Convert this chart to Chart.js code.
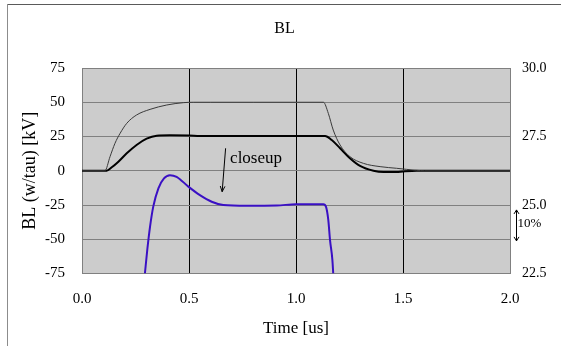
<!DOCTYPE html>
<html>
<head>
<meta charset="utf-8">
<script src="https://cdn.jsdelivr.net/npm/chart.js@4/dist/chart.umd.min.js"></script>
<style>
  html, body { margin: 0; padding: 0; background: #ffffff; }
  #wrap { width: 561px; height: 346px; }
</style>
</head>
<body>
<div id="wrap"><canvas id="c" width="561" height="346"></canvas></div>
<script>
// BL waveform, w series (thin trace), in kV vs time in us
const timeW  = [0, 0.107, 0.131, 0.154, 0.178, 0.209, 0.255, 0.318, 0.396, 0.474, 0.52, 0.6, 0.8, 1.0, 1.128, 1.151, 1.174, 1.206, 1.252, 1.315, 1.393, 1.47, 1.564, 1.6, 2.0];
const valueW = [0, 0, 10.3, 20, 27.3, 34.6, 40.7, 44.8, 48, 49.7, 50, 50, 50, 50, 50, 41.9, 29.7, 18.8, 10.3, 5.4, 3, 1.8, 0.3, 0, 0];

// BL waveform, tau series (thick trace)
const timeTau  = [0, 0.115, 0.139, 0.17, 0.209, 0.255, 0.302, 0.349, 0.41, 0.5, 0.55, 0.8, 1.136, 1.167, 1.206, 1.252, 1.299, 1.362, 1.409, 1.47, 1.5, 1.564, 1.6, 2.0];
const valueTau = [0, 0, 2.5, 6.6, 12.7, 18.8, 23.4, 25.6, 25.9, 25.8, 25.4, 25.4, 25.4, 22.4, 16.4, 9.1, 3.5, 0, -0.9, -0.9, -0.5, 0, 0, 0];

// Closeup of the tau trace, read on the right axis
const timeCloseup  = [0.294, 0.305, 0.318, 0.333, 0.357, 0.383, 0.411, 0.442, 0.497, 0.551, 0.606, 0.66, 0.77, 0.91, 1.0, 1.128, 1.14, 1.151, 1.159, 1.17, 1.174];
const valueCloseup = [22.5, 23.36, 24.21, 24.94, 25.61, 25.97, 26.09, 26.03, 25.67, 25.36, 25.12, 25.0, 24.97, 24.98, 25.03, 25.03, 24.94, 24.45, 23.72, 23.0, 22.5];

// Axis ticks
const xTickValues = [0, 0.5, 1, 1.5, 2];
const xTickLabels = ['0.0', '0.5', '1.0', '1.5', '2.0'];
const leftTickValues = [-75, -50, -25, 0, 25, 50, 75];
const leftTickLabels = ['-75', '-50', '-25', '0', '25', '50', '75'];
const rightTickValues = [22.5, 25, 27.5, 30];
const rightTickLabels = ['22.5', '25.0', '27.5', '30.0'];

const SERIF = "'Liberation Serif', 'Times New Roman', serif";

const toPoints = (xs, ys) => xs.map((x, i) => ({ x: x, y: ys[i] }));
const setTicks = (values) => (scale) => { scale.ticks = values.map(v => ({ value: v })); };
const labelFor = (values, labels) => (v) => labels[values.indexOf(v)];

// Frame, plot background and notes
const decor = {
  id: 'decor',
  beforeDraw(chart) {
    const { ctx, chartArea: a } = chart;
    ctx.save();
    ctx.fillStyle = '#ffffff';
    ctx.fillRect(0, 0, chart.width, chart.height);
    ctx.fillStyle = '#cccccc';
    ctx.fillRect(a.left, a.top, a.right - a.left, a.bottom - a.top);
    ctx.lineWidth = 1;
    ctx.strokeStyle = '#5a5a5a';
    ctx.beginPath(); ctx.moveTo(7, 4.5); ctx.lineTo(chart.width, 4.5); ctx.stroke();
    ctx.strokeStyle = '#8c8c8c';
    ctx.beginPath(); ctx.moveTo(7.5, 4); ctx.lineTo(7.5, chart.height); ctx.stroke();
    ctx.restore();
  },
  afterDatasetsDraw(chart) {
    const { ctx } = chart;
    const x = chart.scales.x, y = chart.scales.y, y2 = chart.scales.y2;
    ctx.save();
    ctx.strokeStyle = '#000000';
    ctx.fillStyle = '#000000';
    ctx.lineWidth = 1;

    // "closeup" pointer
    const ax0 = x.getPixelForValue(0.671), ay0 = y.getPixelForValue(16.4);
    const ax1 = x.getPixelForValue(0.655), ay1 = y.getPixelForValue(-15.3);
    ctx.beginPath(); ctx.moveTo(ax0, ay0); ctx.lineTo(ax1, ay1); ctx.stroke();
    const ang = Math.atan2(ay1 - ay0, ax1 - ax0);
    const head = 6;
    ctx.beginPath();
    ctx.moveTo(ax1 - head * Math.cos(ang - 0.4), ay1 - head * Math.sin(ang - 0.4));
    ctx.lineTo(ax1, ay1);
    ctx.lineTo(ax1 - head * Math.cos(ang + 0.4), ay1 - head * Math.sin(ang + 0.4));
    ctx.stroke();
    ctx.font = '17px ' + SERIF;
    ctx.textBaseline = 'middle';
    ctx.textAlign = 'left';
    ctx.fillText('closeup', x.getPixelForValue(0.692), y.getPixelForValue(9.1));

    // 10% span marker beside the right axis
    const bx = Math.round(x.getPixelForValue(2.028)) + 0.5;
    const by0 = y2.getPixelForValue(24.82), by1 = y2.getPixelForValue(23.69);
    ctx.beginPath(); ctx.moveTo(bx, by0); ctx.lineTo(bx, by1); ctx.stroke();
    ctx.beginPath();
    ctx.moveTo(bx - 2.5, by0 + 4); ctx.lineTo(bx, by0); ctx.lineTo(bx + 2.5, by0 + 4);
    ctx.moveTo(bx - 2.5, by1 - 4); ctx.lineTo(bx, by1); ctx.lineTo(bx + 2.5, by1 - 4);
    ctx.stroke();
    ctx.font = '13px ' + SERIF;
    ctx.fillText('10%', x.getPixelForValue(2.035), y2.getPixelForValue(24.33));
    ctx.restore();
  }
};

new Chart(document.getElementById('c'), {
  type: 'line',
  data: {
    datasets: [
      {
        label: 'BL w',
        data: toPoints(timeW, valueW),
        borderColor: '#3a3a3a',
        borderWidth: 1,
        pointRadius: 0,
        cubicInterpolationMode: 'monotone',
        yAxisID: 'y'
      },
      {
        label: 'BL tau',
        data: toPoints(timeTau, valueTau),
        borderColor: '#000000',
        borderWidth: 2,
        pointRadius: 0,
        cubicInterpolationMode: 'monotone',
        yAxisID: 'y'
      },
      {
        label: 'closeup',
        data: toPoints(timeCloseup, valueCloseup),
        borderColor: '#3a10c4',
        borderWidth: 2,
        pointRadius: 0,
        cubicInterpolationMode: 'monotone',
        yAxisID: 'y2'
      }
    ]
  },
  options: {
    responsive: false,
    animation: false,
    events: [],
    layout: { padding: { left: 8, right: 0, top: 0, bottom: 0 } },
    plugins: {
      legend: { display: false },
      tooltip: { enabled: false },
      title: {
        display: true,
        text: 'BL',
        color: '#000000',
        font: { family: SERIF, size: 16, weight: 'normal', lineHeight: 1.2 },
        padding: { top: 19, bottom: 29.8 }
      }
    },
    scales: {
      x: {
        type: 'linear',
        min: 0, max: 2,
        afterBuildTicks: setTicks(xTickValues),
        afterFit: (s) => { s.height = 72.5; },
        ticks: {
          callback: labelFor(xTickValues, xTickLabels),
          color: '#000000',
          font: { family: SERIF, size: 15 },
          padding: 17,
          maxRotation: 0
        },
        grid: {
          drawTicks: false,
          color: (c) => (c.tick && (c.tick.value === 0 || c.tick.value === 2)) ? 'rgba(0,0,0,0)' : '#000000',
          lineWidth: 1
        },
        border: { display: true, color: '#808080', width: 1 },
        title: {
          display: true,
          text: 'Time [us]',
          color: '#000000',
          font: { family: SERIF, size: 17, lineHeight: 1.2 },
          padding: { top: 0, bottom: 7 }
        }
      },
      y: {
        type: 'linear',
        position: 'left',
        min: -75, max: 75,
        afterBuildTicks: setTicks(leftTickValues),
        afterFit: (s) => { s.width = 74; },
        ticks: {
          callback: labelFor(leftTickValues, leftTickLabels),
          color: '#000000',
          font: { family: SERIF, size: 15 },
          padding: 17
        },
        grid: { drawTicks: false, color: '#808080', lineWidth: 1 },
        border: { display: true, color: '#808080', width: 1 },
        title: {
          display: true,
          text: 'BL (w/tau) [kV]',
          color: '#000000',
          font: { family: SERIF, size: 18, lineHeight: 1.2 },
          padding: { top: 11, bottom: 0 }
        }
      },
      y2: {
        type: 'linear',
        position: 'right',
        min: 22.5, max: 30,
        afterBuildTicks: setTicks(rightTickValues),
        afterFit: (s) => { s.width = 51; },
        ticks: {
          callback: labelFor(rightTickValues, rightTickLabels),
          color: '#000000',
          font: { family: SERIF, size: 14 },
          padding: 12
        },
        grid: { drawOnChartArea: false, drawTicks: false },
        border: { display: true, color: '#808080', width: 1 }
      }
    }
  },
  plugins: [decor]
});
</script>
</body>
</html>
